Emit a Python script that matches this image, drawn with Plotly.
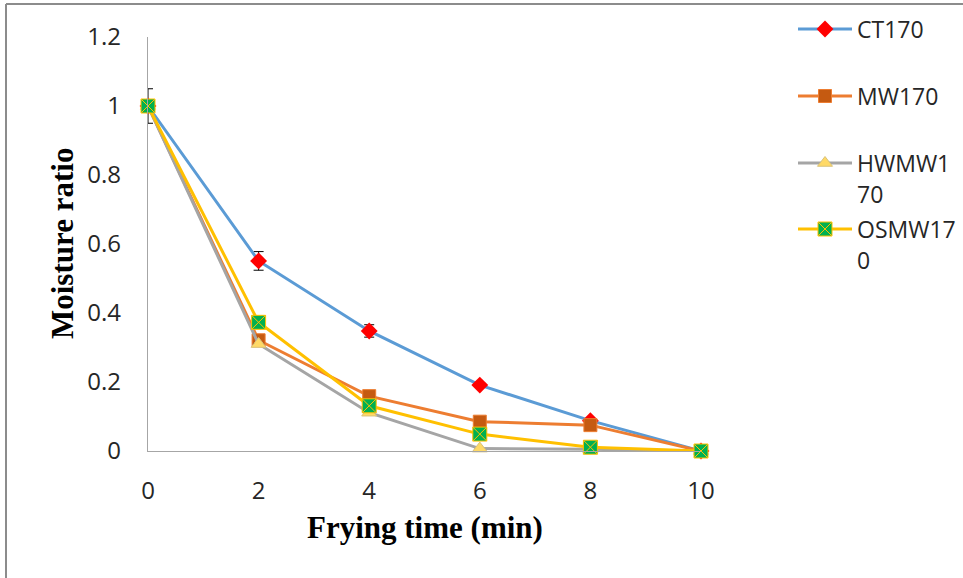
import plotly.graph_objects as go

# Frying time (min) and moisture ratio of each treatment
time_min = [0, 2, 4, 6, 8, 10]
series_names = ["CT170", "MW170", "HWMW170", "OSMW170"]
ct170 = [1.0, 0.551, 0.348, 0.191, 0.088, 0.0]
mw170 = [1.0, 0.321, 0.159, 0.085, 0.075, 0.0]
hwmw170 = [1.0, 0.310, 0.111, 0.007, 0.005, 0.0]
osmw170 = [1.0, 0.373, 0.131, 0.049, 0.011, 0.0]

# Standard deviations shown as error bars
ct170_sd = [0.05, 0.027, 0.018, 0.006, 0.005, 0.0]
mw170_sd = [0.0, 0.01, 0.004, 0.004, 0.004, 0.0]
hwmw170_sd = [0.0, 0.0, 0.0, 0.0, 0.0, 0.0]
osmw170_sd = [0.0, 0.0, 0.0, 0.0, 0.0, 0.0]

y_tick_vals = [0, 0.2, 0.4, 0.6, 0.8, 1.0, 1.2]
y_tick_text = ["0", "0.2", "0.4", "0.6", "0.8", "1", "1.2"]
x_tick_vals = [0, 2, 4, 6, 8, 10]
x_tick_text = ["0", "2", "4", "6", "8", "10"]

# Legend labels as they wrap in the narrow legend column
legend_lines = [["CT170"], ["MW170"], ["HWMW1", "70"], ["OSMW17", "0"]]

W, H = 963, 578
# plot area in pixels
PL, PR, PT, PB = 148, 701, 37, 451

styles = [
    dict(line="#5B9BD5", marker=dict(symbol="diamond", size=13, color="#FF0000",
                                     line=dict(width=0))),
    dict(line="#ED7D31", marker=dict(symbol="square", size=13, color="#C55A11",
                                     line=dict(width=1, color="#ED7D31"))),
    dict(line="#A5A5A5", marker=dict(symbol="triangle-up", size=13, color="#FFD966",
                                     line=dict(width=1, color="#D9C27A"))),
    dict(line="#FFC000", marker=dict(symbol="square-x", size=14, color="#00B050",
                                     line=dict(width=1, color="#FFC000"))),
]
values = [ct170, mw170, hwmw170, osmw170]
sds = [ct170_sd, mw170_sd, hwmw170_sd, osmw170_sd]

fig = go.Figure()

for name, vals, sd, st in zip(series_names, values, sds, styles):
    fig.add_trace(go.Scatter(
        x=time_min, y=vals, name=name, mode="lines+markers",
        line=dict(color=st["line"], width=3),
        marker=st["marker"],
        error_y=dict(type="data", array=sd, visible=True, color="#000000",
                     thickness=1, width=5),
        cliponaxis=False, showlegend=False,
        xaxis="x", yaxis="y",
    ))

# Legend keys drawn on a pixel-coordinate overlay
key_y = [29, 96, 163, 229]
key_x0, key_x1 = 798, 852
for (st, ky) in zip(styles, key_y):
    fig.add_trace(go.Scatter(
        x=[key_x0, key_x1], y=[ky, ky], mode="lines",
        line=dict(color=st["line"], width=3),
        hoverinfo="skip", showlegend=False, xaxis="x2", yaxis="y2",
    ))
    fig.add_trace(go.Scatter(
        x=[(key_x0 + key_x1) / 2], y=[ky], mode="markers",
        marker=st["marker"], hoverinfo="skip", showlegend=False,
        xaxis="x2", yaxis="y2", cliponaxis=False,
    ))

annotations = []
for lines, ky in zip(legend_lines, key_y):
    for i, txt in enumerate(lines):
        annotations.append(dict(
            x=855, y=ky + i * 31, xref="x2", yref="y2", text=txt,
            showarrow=False, xanchor="left", yanchor="middle",
            font=dict(family="Open Sans", size=23, color="#262626"),
        ))

# Axis titles
annotations.append(dict(
    x=425, y=527, xref="x2", yref="y2", text="Frying time (min)",
    showarrow=False, xanchor="center", yanchor="middle",
    font=dict(family="Liberation Serif", size=31, color="#000000", weight="bold"),
))
annotations.append(dict(
    x=62, y=244, xref="x2", yref="y2", text="Moisture ratio", textangle=-90,
    showarrow=False, xanchor="center", yanchor="middle",
    font=dict(family="Liberation Serif", size=31, color="#000000", weight="bold"),
))

# Outer chart border (top and left edges)
shapes = [
    dict(type="line", xref="x2", yref="y2", x0=6, y0=4, x1=W + 5, y1=4,
         line=dict(color="#8C8C8C", width=2)),
    dict(type="line", xref="x2", yref="y2", x0=6, y0=4, x1=6, y1=H + 5,
         line=dict(color="#8C8C8C", width=2)),
]

tick_font = dict(family="Open Sans", size=24, color="#262626")

fig.update_layout(
    width=W, height=H,
    autosize=False,
    margin=dict(l=0, r=0, t=0, b=0, pad=0, autoexpand=False),
    paper_bgcolor="white", plot_bgcolor="rgba(0,0,0,0)",
    showlegend=False,
    xaxis=dict(
        domain=[PL / W, PR / W], range=[0, 10], anchor="y", automargin=False,
        tickvals=x_tick_vals, ticktext=x_tick_text, tickfont=tick_font,
        showline=True, linecolor="#A6A6A6", linewidth=1.2,
        ticks="", showgrid=False, zeroline=False, ticklabelstandoff=18,
        fixedrange=True,
    ),
    yaxis=dict(
        domain=[(H - PB) / H, (H - PT) / H], range=[0, 1.2], anchor="x",
        automargin=False,
        tickvals=y_tick_vals, ticktext=y_tick_text, tickfont=tick_font,
        showline=True, linecolor="#A6A6A6", linewidth=1.2,
        ticks="", showgrid=False, zeroline=False, ticklabelstandoff=21,
        fixedrange=True,
    ),
    xaxis2=dict(domain=[0, 1], range=[0, W], anchor="y2", visible=False,
                automargin=False, fixedrange=True),
    yaxis2=dict(domain=[0, 1], range=[H, 0], anchor="x2", visible=False,
                automargin=False, fixedrange=True),
    annotations=annotations,
    shapes=shapes,
)

fig.write_html("out.html")
